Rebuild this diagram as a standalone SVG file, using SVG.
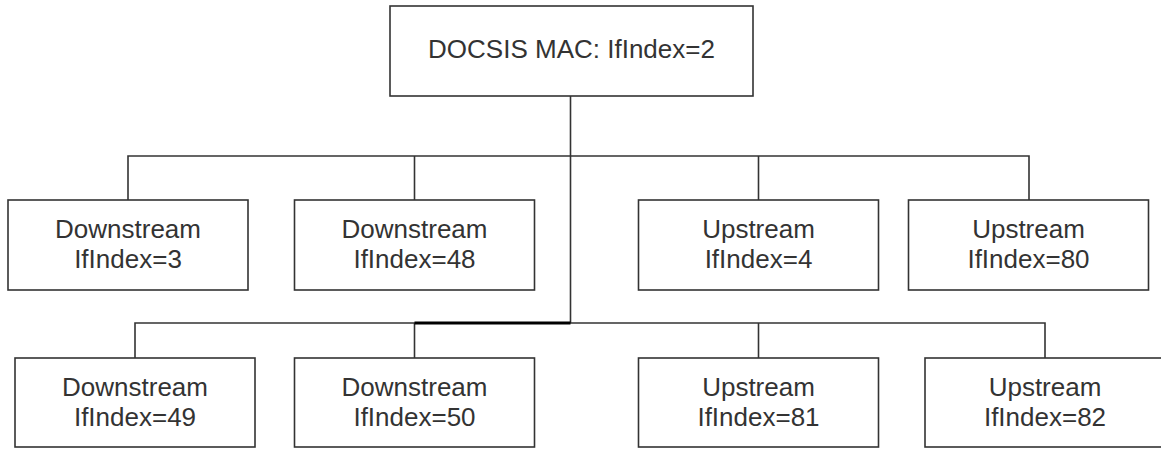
<svg xmlns="http://www.w3.org/2000/svg" width="1161" height="449" viewBox="0 0 1161 449">
<style>
.box{fill:#fff;stroke:#333;stroke-width:1.6}
.lbl{font-family:"Liberation Sans",Arial,sans-serif;font-size:26px;fill:#333;text-anchor:middle}
.con{fill:none;stroke:#333;stroke-width:1.6}
</style>
<rect width="1161" height="449" fill="#fff"/>
<g id="connectors">
<path class="con" d="M570.5 96V323"/>
<path class="con" d="M128 200V156H1029V200"/>
<path class="con" d="M414.5 200V156"/>
<path class="con" d="M758.5 200V156"/>
<path class="con" d="M135 358V323H1045V358"/>
<path class="con" d="M414.5 358V323"/>
<path class="con" d="M758.5 358V323"/>
<path d="M414.5 323H570.5" fill="none" stroke="#000" stroke-width="3"/>
</g>
<g id="mac"><rect class="box" x="390" y="6" width="363" height="90"/><text class="lbl" x="571.5" y="58">DOCSIS MAC: IfIndex=2</text></g>
<g id="ds3"><rect class="box" x="8" y="200" width="240" height="90"/><text class="lbl" x="128" y="238">Downstream</text><text class="lbl" x="128" y="268">IfIndex=3</text></g>
<g id="ds48"><rect class="box" x="294.5" y="200" width="240" height="90"/><text class="lbl" x="414.5" y="238">Downstream</text><text class="lbl" x="414.5" y="268">IfIndex=48</text></g>
<g id="us4"><rect class="box" x="638.5" y="200" width="240" height="90"/><text class="lbl" x="758.5" y="238">Upstream</text><text class="lbl" x="758.5" y="268">IfIndex=4</text></g>
<g id="us80"><rect class="box" x="908.5" y="200" width="240" height="90"/><text class="lbl" x="1028.5" y="238">Upstream</text><text class="lbl" x="1028.5" y="268">IfIndex=80</text></g>
<g id="ds49"><rect class="box" x="15" y="358" width="240" height="89"/><text class="lbl" x="135" y="396">Downstream</text><text class="lbl" x="135" y="426">IfIndex=49</text></g>
<g id="ds50"><rect class="box" x="294.5" y="358" width="240" height="89"/><text class="lbl" x="414.5" y="396">Downstream</text><text class="lbl" x="414.5" y="426">IfIndex=50</text></g>
<g id="us81"><rect class="box" x="638.5" y="358" width="240" height="89"/><text class="lbl" x="758.5" y="396">Upstream</text><text class="lbl" x="758.5" y="426">IfIndex=81</text></g>
<g id="us82"><rect class="box" x="925" y="358" width="240" height="89"/><text class="lbl" x="1045" y="396">Upstream</text><text class="lbl" x="1045" y="426">IfIndex=82</text></g>
</svg>
